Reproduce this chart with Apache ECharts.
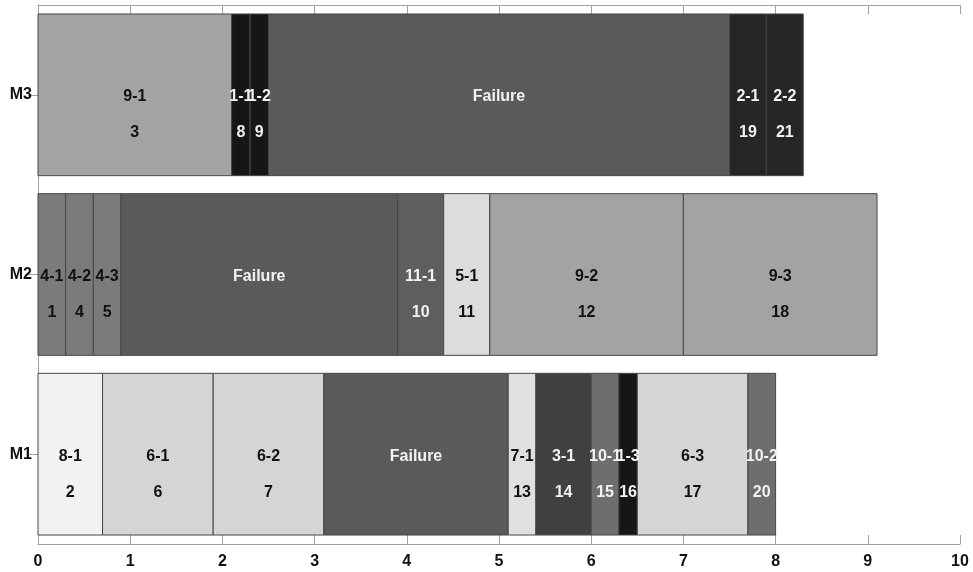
<!DOCTYPE html>
<html>
<head>
<meta charset="utf-8">
<script src="https://cdn.jsdelivr.net/npm/echarts@6/dist/echarts.min.js"></script>
<style>html,body{margin:0;padding:0;background:#fff}#c{width:973px;height:572px}</style>
</head>
<body>
<div id="c"></div>
<script>
// ---- data ----
const machines = ['M1', 'M2', 'M3'];
const xTicks = [0, 1, 2, 3, 4, 5, 6, 7, 8, 9, 10];
const taskMachine = [0,0,0,0,0,0,0,0,0,0, 1,1,1,1,1,1,1,1, 2,2,2,2,2,2];
const taskStart = [0, 0.7, 1.9, 3.1, 5.1, 5.4, 6.0, 6.3, 6.5, 7.7,
                   0, 0.3, 0.6, 0.9, 3.9, 4.4, 4.9, 7.0,
                   0, 2.1, 2.3, 2.5, 7.5, 7.9];
const taskEnd   = [0.7, 1.9, 3.1, 5.1, 5.4, 6.0, 6.3, 6.5, 7.7, 8.0,
                   0.3, 0.6, 0.9, 3.9, 4.4, 4.9, 7.0, 9.1,
                   2.1, 2.3, 2.5, 7.5, 7.9, 8.3];
const taskName  = ['8-1','6-1','6-2','Failure','7-1','3-1','10-1','1-3','6-3','10-2',
                   '4-1','4-2','4-3','Failure','11-1','5-1','9-2','9-3',
                   '9-1','1-1','1-2','Failure','2-1','2-2'];
const taskOrder = ['2','6','7','','13','14','15','16','17','20',
                   '1','4','5','','10','11','12','18',
                   '3','8','9','','19','21'];

// ---- styles ----
const jobFill = {
  '1': '#161616', '2': '#262626', '3': '#404040', '4': '#7b7b7b', '5': '#dcdcdc',
  '6': '#d5d5d5', '7': '#e0e0e0', '8': '#f2f2f2', '9': '#a3a3a3', '10': '#6e6e6e',
  '11': '#5e5e5e', 'Failure': '#5a5a5a'
};
const jobText = {
  '1': '#f2f2f2', '2': '#f2f2f2', '3': '#f2f2f2', '10': '#f2f2f2', '11': '#f2f2f2', 'Failure': '#f2f2f2'
};
function jobOf(name) { return name === 'Failure' ? 'Failure' : name.split('-')[0]; }

const seriesData = taskName.map((n, i) => [taskMachine[i], taskStart[i], taskEnd[i], n, taskOrder[i]]);
const FONT = 'bold 16px "Liberation Sans", Arial, sans-serif';

function renderItem(params, api) {
  const cat = api.value(0);
  const s = api.value(1), e = api.value(2);
  const idx = params.dataIndex;
  const name = taskName[idx], ord = taskOrder[idx];
  const p0 = api.coord([s, cat]);
  const p1 = api.coord([e, cat]);
  const h = api.size([0, 1])[1] * 0.9;
  const job = jobOf(name);
  const tc = jobText[job] || '#111';
  const cx = (p0[0] + p1[0]) / 2;
  const children = [{
    type: 'rect',
    shape: { x: p0[0], y: p0[1] - h / 2, width: p1[0] - p0[0], height: h },
    style: { fill: jobFill[job], stroke: '#474747', lineWidth: 1 },
    z2: 1
  }, {
    type: 'text', z2: 20,
    style: { text: name, x: cx, y: p0[1] + 2, fill: tc, font: FONT, align: 'center', verticalAlign: 'middle' }
  }];
  if (ord) children.push({
    type: 'text', z2: 20,
    style: { text: ord, x: cx, y: p0[1] + 38, fill: tc, font: FONT, align: 'center', verticalAlign: 'middle' }
  });
  return { type: 'group', children };
}

const axisLineStyle = { color: '#a0a0a0', width: 1 };
const chart = echarts.init(document.getElementById('c'));
chart.setOption({
  animation: false,
  backgroundColor: '#fff',
  grid: { left: 38, right: 13, top: 5, bottom: 28, containLabel: false },
  xAxis: [{
    type: 'value', min: xTicks[0], max: xTicks[xTicks.length - 1], interval: 1, position: 'bottom',
    axisLine: { show: true, lineStyle: axisLineStyle },
    axisTick: { show: true, inside: true, length: 9, lineStyle: axisLineStyle },
    axisLabel: { color: '#111', fontSize: 16, fontWeight: 'bold', fontFamily: '"Liberation Sans", Arial, sans-serif', margin: 10 },
    splitLine: { show: false }
  }, {
    type: 'value', min: xTicks[0], max: xTicks[xTicks.length - 1], interval: 1, position: 'top',
    axisLine: { show: true, lineStyle: axisLineStyle },
    axisTick: { show: true, inside: true, length: 9, lineStyle: axisLineStyle },
    axisLabel: { show: false }, splitLine: { show: false }
  }],
  yAxis: [{
    type: 'category', data: machines, position: 'left',
    axisLine: { show: true, lineStyle: axisLineStyle },
    axisTick: { show: true, inside: true, length: 10, alignWithLabel: true, lineStyle: axisLineStyle },
    axisLabel: { color: '#111', fontSize: 16, fontWeight: 'bold', fontFamily: '"Liberation Sans", Arial, sans-serif', margin: 6 },
    splitLine: { show: false }
  }, {
    type: 'category', data: machines, position: 'right',
    axisLine: { show: true, lineStyle: axisLineStyle },
    axisTick: { show: true, inside: true, length: 10, alignWithLabel: true, lineStyle: axisLineStyle },
    axisLabel: { show: false }, splitLine: { show: false }
  }],
  series: [{
    type: 'custom',
    xAxisIndex: 0, yAxisIndex: 0,
    renderItem: renderItem,
    encode: { x: [1, 2], y: 0 },
    data: seriesData,
    clip: false
  }]
});
</script>
</body>
</html>
